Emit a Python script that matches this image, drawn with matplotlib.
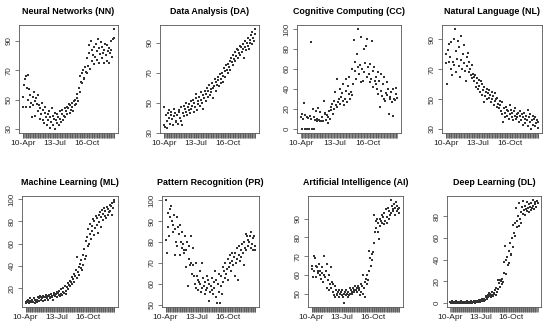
import matplotlib
matplotlib.use("Agg")
import matplotlib.pyplot as plt
import numpy as np

plt.rcParams['font.family'] = ['Liberation Sans', 'DejaVu Sans']

nn = [52, 45, 60, 64, 45, 66, 58, 67, 50, 57,
      45, 53, 48, 38, 52, 46, 55, 49, 39, 51,
      47, 53, 42, 46, 37, 44, 40, 48, 36, 43,
      34, 41, 45, 38, 33, 40, 36, 42, 31, 38,
      35, 44, 39, 33, 37, 30, 41, 36, 34, 40,
      38, 33, 42, 37, 35, 40, 43, 36, 39, 44,
      38, 42, 45, 40, 44, 47, 41, 46, 43, 48,
      45, 42, 49, 46, 50, 47, 54, 51, 49, 58,
      55, 66, 62, 68, 61, 70, 65, 64, 72, 69,
      78, 68, 73, 82, 87, 71, 90, 76, 84, 80,
      74, 86, 79, 88, 77, 83, 91, 75, 85, 81,
      89, 78, 86, 82, 75, 84, 88, 80, 76, 87,
      83, 85, 75, 82, 90, 84, 79, 91, 98, 92]

da = [47, 35, 34, 42, 33, 38, 43, 40, 45, 36,
      44, 42, 39, 35, 46, 41, 43, 38, 37, 42,
      36, 44, 45, 40, 47, 38, 35, 43, 48, 41,
      46, 44, 50, 42, 47, 45, 49, 43, 51, 46,
      48, 52, 44, 50, 47, 53, 56, 45, 51, 49,
      54, 48, 52, 57, 50, 55, 46, 53, 58, 51,
      56, 60, 54, 58, 62, 55, 59, 57, 63, 60,
      53, 61, 66, 58, 64, 62, 67, 65, 61, 69,
      63, 66, 70, 68, 64, 73, 71, 67, 75, 72,
      70, 76, 74, 78, 72, 80, 77, 82, 75, 79,
      84, 78, 81, 86, 80, 85, 83, 88, 82, 87,
      84, 89, 86, 80, 91, 87, 85, 90, 88, 93,
      86, 92, 90, 95, 89, 97, 93, 91, 99, 96]

cc = [12, 0, 15, 10, 26, 0, 14, 0, 12, 0,
      11, 0, 13, 87, 10, 0, 20, 12, 0, 9,
      18, 10, 8, 21, 9, 8, 17, 8, 8, 12,
      8, 28, 15, 16, 9, 14, 12, 6, 18, 10,
      22, 19, 25, 15, 28, 20, 37, 24, 50, 22,
      27, 30, 40, 25, 32, 36, 28, 45, 24, 30,
      38, 50, 27, 43, 35, 52, 30, 37, 60, 34,
      45, 89, 58, 67, 50, 75, 62, 100, 55, 64,
      47, 92, 60, 48, 80, 57, 66, 83, 52, 90,
      62, 55, 47, 65, 50, 88, 58, 42, 62, 48,
      52, 45, 40, 57, 35, 48, 22, 55, 38, 33,
      45, 30, 52, 28, 36, 47, 34, 40, 15, 32,
      30, 37, 27, 13, 40, 30, 29, 41, 35, 31]

nl = [80, 74, 60, 83, 75, 87, 78, 70, 88, 66,
      75, 90, 73, 97, 82, 68, 77, 89, 72, 85,
      65, 76, 92, 70, 80, 74, 86, 69, 62, 78,
      72, 81, 68, 75, 70, 66, 73, 64, 67, 65,
      62, 66, 58, 64, 61, 57, 63, 59, 55, 62,
      53, 60, 56, 48, 58, 52, 55, 57, 50, 54,
      56, 51, 53, 48, 55, 50, 52, 46, 54, 49,
      50, 45, 51, 47, 44, 49, 46, 42, 48, 40,
      35, 44, 41, 38, 45, 43, 39, 42, 37, 46,
      40, 43, 38, 41, 36, 42, 39, 44, 37, 40,
      38, 41, 35, 39, 42, 36, 40, 33, 38, 41,
      37, 34, 39, 36, 43, 32, 38, 35, 40, 30,
      36, 39, 33, 37, 32, 38, 34, 36, 31, 35]

ml = [8, 7, 9, 8, 10, 7, 9, 11, 8, 10,
      9, 8, 11, 10, 7, 9, 8, 10, 12, 9,
      11, 13, 10, 12, 11, 9, 13, 12, 10, 14,
      12, 11, 13, 10, 14, 12, 11, 15, 13, 12,
      10, 14, 16, 13, 15, 17, 12, 16, 14, 18,
      13, 15, 19, 14, 17, 20, 16, 22, 18, 15,
      21, 25, 19, 23, 27, 22, 26, 30, 24, 28,
      33, 26, 31, 36, 48, 29, 35, 39, 32, 42,
      38, 45, 36, 50, 41, 55, 46, 62, 49, 66,
      58, 73, 60, 69, 78, 64, 76, 71, 82, 68,
      80, 74, 85, 77, 83, 70, 86, 79, 88, 75,
      84, 90, 81, 87, 92, 85, 89, 83, 93, 86,
      91, 88, 95, 89, 94, 86, 96, 92, 97, 99]

pr = [100, 81, 75, 94, 87, 83, 96, 92, 97, 90,
      88, 85, 93, 74, 86, 80, 92, 78, 87, 84,
      74, 88, 80, 77, 85, 79, 76, 75, 83, 68,
      76, 80, 59, 72, 78, 69, 83, 70, 65, 77,
      69, 64, 60, 70, 58, 64, 62, 57, 61, 66,
      60, 56, 70, 58, 63, 59, 55, 61, 57, 64,
      58, 62, 52, 60, 56, 59, 63, 57, 55, 61,
      58, 66, 54, 62, 51, 60, 56, 65, 51, 59,
      64, 55, 68, 61, 66, 63, 70, 65, 67, 62,
      72, 68, 70, 74, 66, 75, 71, 69, 73, 64,
      75, 70, 72, 77, 62, 74, 78, 71, 76, 73,
      79, 75, 80, 69, 77, 84, 76, 83, 78, 81,
      80, 83, 77, 85, 79, 76, 82, 83, 78, 76]

ai = [65, 63, 59, 70, 62, 69, 65, 59, 64, 62,
      61, 66, 60, 62, 58, 64, 61, 56, 60, 70,
      59, 62, 53, 66, 57, 52, 60, 55, 53, 64,
      56, 51, 55, 49, 54, 48, 52, 50, 49, 51,
      52, 48, 50, 51, 49, 52, 48, 50, 45, 51,
      49, 52, 50, 48, 51, 49, 53, 50, 52, 51,
      50, 53, 52, 51, 54, 52, 53, 51, 54, 52,
      53, 49, 55, 51, 54, 50, 60, 53, 56, 48,
      58, 55, 60, 57, 73, 62, 69, 65, 71, 68,
      72, 92, 77, 83, 89, 85, 90, 83, 88, 79,
      90, 86, 89, 92, 88, 91, 87, 93, 89, 95,
      91, 88, 96, 90, 94, 92, 100, 93, 97, 95,
      94, 98, 92, 96, 99, 94, 97, 95, 93, 96]

dl = [1, 0, 2, 1, 0, 1, 0, 1, 2, 0,
      1, 0, 0, 1, 1, 0, 2, 1, 0, 1,
      0, 1, 0, 1, 2, 0, 1, 0, 1, 0,
      1, 2, 0, 1, 1, 2, 0, 1, 2, 1,
      2, 1, 3, 2, 1, 3, 2, 4, 3, 2,
      4, 3, 5, 6, 4, 7, 5, 9, 6, 8,
      5, 10, 7, 6, 9, 8, 12, 7, 14, 10,
      21, 13, 18, 15, 21, 20, 22, 17, 19, 38,
      28, 53, 40, 27, 42, 35, 48, 37, 55, 44,
      45, 60, 72, 52, 65, 74, 62, 88, 70, 76,
      80, 71, 92, 78, 84, 74, 89, 82, 94, 86,
      81, 90, 87, 85, 93, 88, 84, 91, 89, 86,
      92, 88, 90, 95, 87, 93, 91, 89, 94, 92]

titles = ["Neural Networks (NN)", "Data Analysis (DA)", "Cognitive Computing (CC)",
          "Natural Language (NL)", "Machine Learning (ML)", "Pattern Recognition (PR)",
          "Artificial Intelligence (AI)", "Deep Learning (DL)"]
series = [nn, da, cc, nl, ml, pr, ai, dl]
yticks = [[30, 50, 70, 90], [30, 50, 70, 90], [0, 20, 40, 60, 80, 100], [30, 50, 70, 90],
          [20, 40, 60, 80, 100], [50, 60, 70, 80, 90, 100], [50, 60, 70, 80, 90],
          [0, 20, 40, 60, 80]]
date_labels = {0: "10-Apr", 45: "13-Jul", 90: "16-Oct"}

W, H = 550, 326
# axes boxes in pixels: left, right, top, bottom
boxes = [(19, 118, 25, 133), (160, 259, 25, 133), (297, 401, 25, 133), (442, 542, 25, 133),
         (22, 118, 196, 307), (162, 259, 196, 307), (308, 403, 196, 307), (447, 541, 196, 307)]

fig = plt.figure(figsize=(W / 100, H / 100), dpi=100)

for i in range(8):
    l, r, t, b = boxes[i]
    ax = fig.add_axes([l / W, 1 - b / H, (r - l) / W, (b - t) / H])
    y = series[i]
    x = np.arange(len(y))
    ax.scatter(x, y, s=0.9, c='#333333', marker='s', linewidths=0)
    ax.margins(0.04)
    labels = [date_labels.get(k, "") for k in x]
    ax.set_xticks(x)
    ax.set_xticklabels(labels, fontsize=6, color='#222222')
    ax.set_yticks(yticks[i])
    ax.set_yticklabels([str(v) for v in yticks[i]], fontsize=5.8, rotation=90,
                       va='center', color='#333333')
    ax.tick_params(axis='x', length=3.5, width=0.45, pad=1.5, color='#444444')
    ax.tick_params(axis='y', length=3, width=0.5, pad=1.5, color='#444444')
    for sp in ax.spines.values():
        sp.set_linewidth(0.6)
        sp.set_color('#555555')
    ax.set_title(titles[i], fontsize=6.4, fontweight='bold', pad=8)

fig.savefig("out.png", dpi=100)
